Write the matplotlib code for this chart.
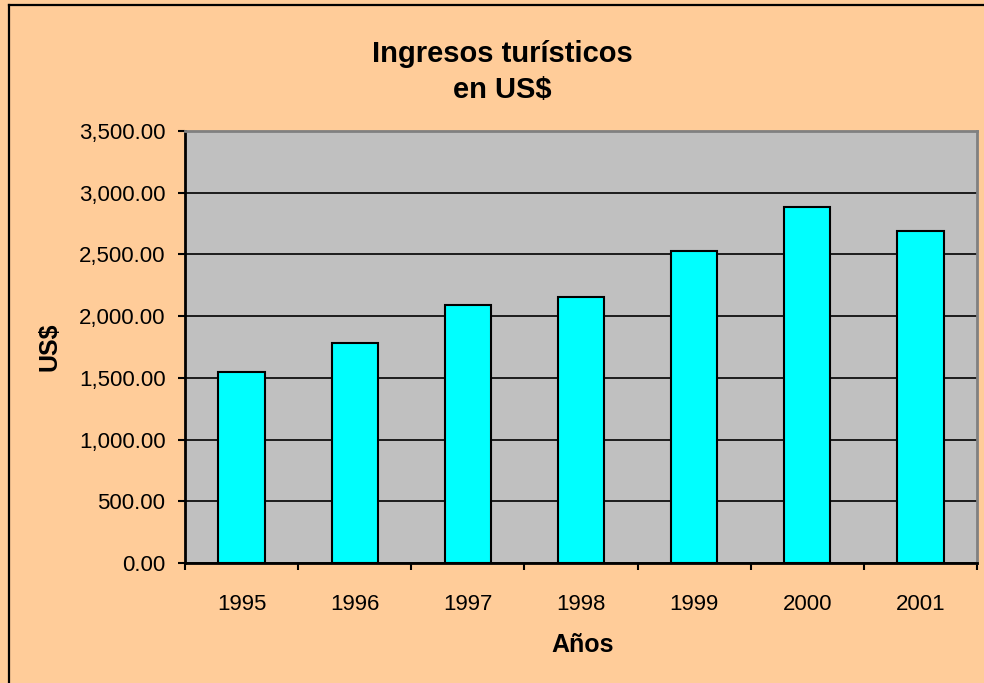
import numpy as np
import matplotlib
matplotlib.use("Agg")
import matplotlib.pyplot as plt
from matplotlib.lines import Line2D

plt.rcParams['font.family'] = ['Liberation Sans', 'DejaVu Sans']

# datos
years = ['1995', '1996', '1997', '1998', '1999', '2000', '2001']
ingresos = [1550, 1780, 2088, 2153, 2526, 2882, 2688]
yticks = [0, 500, 1000, 1500, 2000, 2500, 3000, 3500]

W, H = 984, 683
fig = plt.figure(figsize=(W / 100, H / 100), dpi=100)
fig.patch.set_facecolor('#FFCC99')

# marco (solo visible arriba e izquierda)
fig.add_artist(Line2D([9 / W, 9 / W], [0, 1 - 5 / H], color='black', lw=1.6, transform=fig.transFigure))
fig.add_artist(Line2D([9 / W, 1], [1 - 5 / H, 1 - 5 / H], color='black', lw=1.6, transform=fig.transFigure))

left, right, top, bottom = 185, 977, 131, 563
ax = fig.add_axes([left / W, (H - bottom) / H, (right - left) / W, (bottom - top) / H])
ax.set_facecolor('#C0C0C0')

x = np.arange(len(years))
ax.bar(x, ingresos, width=0.41, color='#00FFFF', edgecolor='black', linewidth=1.5, zorder=3)

ax.set_xlim(-0.5, len(years) - 0.5)
ax.set_ylim(0, 3500)
ax.set_yticks(yticks)
ax.set_yticklabels(['{:,.2f}'.format(v) for v in yticks])
ax.yaxis.grid(True, color='black', linewidth=1.2, zorder=1)
ax.set_axisbelow(True)

ax.set_xticks(x)
ax.set_xticklabels(years)
ax.set_xticks(np.arange(-0.5, len(years)), minor=True)
ax.tick_params(axis='x', which='major', length=0, pad=22, labelsize=16)
ax.tick_params(axis='x', which='minor', length=5, width=1.5, direction='out')
ax.tick_params(axis='y', length=5, width=1.5, direction='out', pad=9, labelsize=16)

for s in ['left', 'bottom']:
    ax.spines[s].set_color('black')
    ax.spines[s].set_linewidth(2)
for s in ['top', 'right']:
    ax.spines[s].set_color('#808080')
    ax.spines[s].set_linewidth(2)

fig.text(502 / W, 1 - 62 / H, 'Ingresos turísticos', ha='center', va='baseline',
         fontsize=21, fontweight='bold')
fig.text(502 / W, 1 - 98 / H, 'en US$', ha='center', va='baseline',
         fontsize=21, fontweight='bold')
fig.text(50 / W, 1 - 347 / H, 'US$', ha='center', va='center', rotation=90,
         fontsize=18, fontweight='bold')
fig.text(583 / W, 1 - 652 / H, 'Años', ha='center', va='baseline',
         fontsize=18, fontweight='bold')

fig.savefig('out.png', dpi=100, facecolor=fig.get_facecolor())
